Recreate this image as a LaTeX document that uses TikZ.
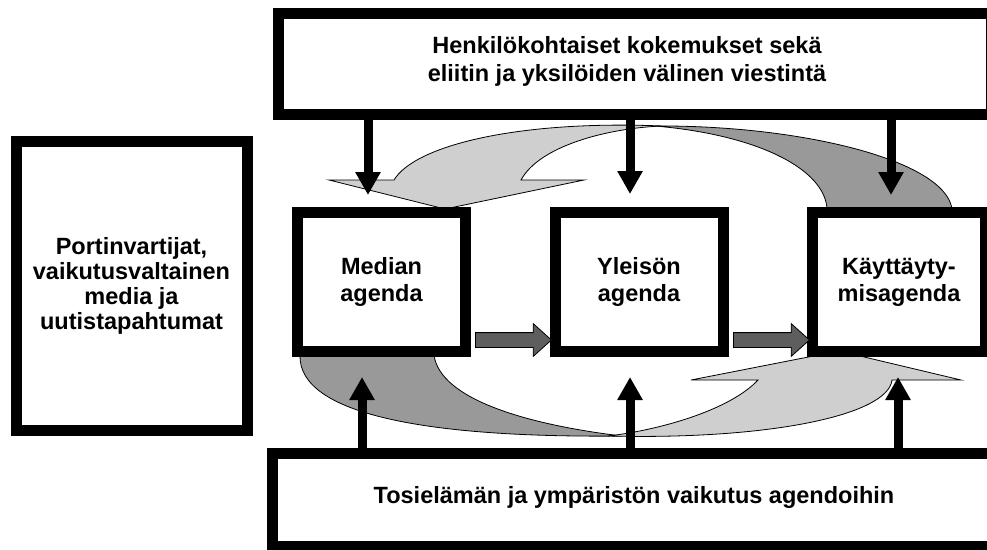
\documentclass[tikz,border=0pt]{standalone}
\usepackage{fontspec}
\setmainfont{Liberation Sans}
\usetikzlibrary{arrows.meta,shapes.arrows}
\pgfdeclarelayer{bg}
\pgfsetlayers{bg,main}

\begin{document}
\begin{tikzpicture}[x=1pt,y=-1pt,
  box/.style={draw,line width=11pt,fill=white,inner sep=0pt,align=center,
    font=\bfseries\fontsize{23.5}{27}\selectfont},
  txt/.style={align=center,font=\bfseries\fontsize{23.5}{28}\selectfont},
  band/.style={draw,line width=0.8pt},
  push/.style={line width=9pt,-{Triangle[length=23pt,width=24pt]}},
  smallarrow/.style={single arrow,draw,line width=0.8pt,fill=black!63,
    inner xsep=0pt,inner ysep=7pt,minimum height=76pt,
    single arrow head extend=9pt,single arrow tip angle=84}]
\useasboundingbox (0,0) rectangle (987,549);
\clip (0,0) rectangle (987,549);
% boxes
\node[box,minimum width=231pt,minimum height=289pt,font=\bfseries\fontsize{23.5}{25}\selectfont] (gate) at (131.5,285.5)
  {Portinvartijat,\\vaikutusvaltainen\\media ja\\uutistapahtumat};
\node[box,minimum width=713.5pt,minimum height=101pt] (top) at (634.75,63.5) {};
\node[box,minimum width=725pt,minimum height=93pt] (bot) at (634.5,499.5) {};
\node[box,minimum width=168pt,minimum height=139pt] (med) at (381.5,282) {Median\\agenda};
\node[box,minimum width=168pt,minimum height=139pt] (pub) at (639,282) {Yleisön\\agenda};
\node[box,minimum width=173pt,minimum height=139pt] (beh) at (899,282) {Käyttäyty-\\misagenda};
\node[txt] (toptxt) at (627,61) {Henkilökohtaiset kokemukset sekä\\eliitin ja yksilöiden välinen viestintä};
\node[txt] (bottxt) at (634,497) {Tosielämän ja ympäristön vaikutus agendoihin};
% curved arrows behind the boxes
\begin{pgfonlayer}{bg}
\fill[white] (0,0) rectangle (987,549);
\filldraw[band,fill=black!40] (655,126) .. controls (800,125) and (945,160) .. (952,209)
  -- (827,209) .. controls (825,170) and (760,135) .. (655,126) -- cycle;
\filldraw[band,fill=black!19] (445,209) -- (329,180) -- (394,180)
  .. controls (415,145) and (520,120) .. (662,126)
  .. controls (610,128) and (540,145) .. (521,180) -- (584,180) -- cycle;
\filldraw[band,fill=black!40] (300,355) .. controls (298,415) and (430,438) .. (622,436)
  .. controls (530,425) and (440,400) .. (434,355) -- cycle;
\filldraw[band,fill=black!19] (839,351) -- (961,380) -- (892,380)
  .. controls (888,415) and (770,440) .. (608,436)
  .. controls (660,430) and (730,410) .. (758,380) -- (691,380) -- cycle;
\end{pgfonlayer}
% influences from above and below
\coordinate (t1) at (368,195);
\coordinate (t2) at (630,194);
\coordinate (t3) at (891,195);
\coordinate (b1) at (362,377);
\coordinate (b2) at (630,377);
\coordinate (b3) at (898,377);
\draw[push] (top.south -| t1) -- (t1);
\draw[push] (top.south -| t2) -- (t2);
\draw[push] (top.south -| t3) -- (t3);
\draw[push] (bot.north -| b1) -- (b1);
\draw[push] (bot.north -| b2) -- (b2);
\draw[push] (bot.north -| b3) -- (b3);
% agenda chain
\node[smallarrow,anchor=tail] (s1) at (475,340) {};
\node[smallarrow,anchor=tail] (s2) at (733,340) {};
\end{tikzpicture}
\end{document}
